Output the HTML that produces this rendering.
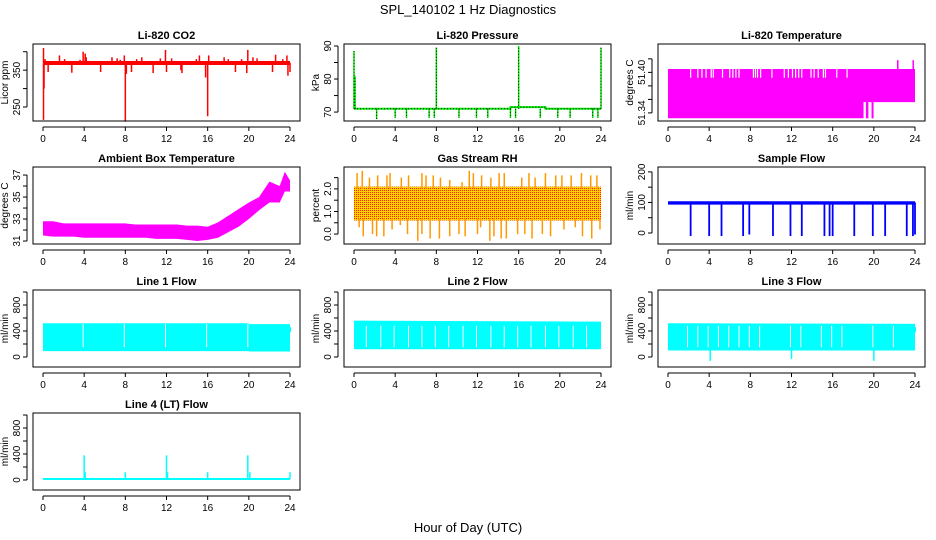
<!DOCTYPE html>
<html><head><meta charset="utf-8">
<style>
html,body{margin:0;padding:0;background:#fff;}
svg{display:block;font-family:"Liberation Sans",sans-serif;}
</style></head>
<body>
<svg id="chart" width="936" height="540" viewBox="0 0 936 540" xmlns="http://www.w3.org/2000/svg">
<defs>
<pattern id="rhp" width="2" height="2" patternUnits="userSpaceOnUse">
<rect width="2" height="2" fill="#ffd000"/><rect x="0" y="0" width="1" height="1" fill="#ff2000"/>
</pattern>
</defs>
<text x="468" y="14" text-anchor="middle" font-size="13">SPL_140102  1 Hz Diagnostics</text>
<text x="468" y="532" text-anchor="middle" font-size="13">Hour of Day (UTC)</text>
</svg>
<script>
// ---- x axis ----
const hourTicks = [0,4,8,12,16,20,24];
// ---- CO2 ----
const co2BandLow = 364, co2BandHigh = 375;
const co2SpikeHours = [0.05,0.1,0.05,0.2,0.5,1.6,2.1,2.8,3.6,3.9,4.1,4.2,5.6,6.7,7.2,7.5,7.9,8.0,8.1,8.6,9.1,9.6,10.7,11.4,11.9,12.0,12.5,13.4,13.5,14.9,15.2,15.8,16.0,16.1,17.6,18.0,18.7,19.3,19.8,19.9,20.4,20.8,22.3,22.6,23.3,23.7,23.8,24.0];
const co2SpikeVals = [215,300,410,380,345,390,380,343,378,400,395,385,345,385,382,378,390,210,340,345,380,385,342,382,405,345,382,350,342,380,390,330,225,390,385,380,345,380,342,405,385,382,345,392,380,390,335,345];
// ---- Pressure ----
const presBaseHours = [0,15.2,15.2,18.6,18.6,24];
const presBaseVals = [71,71,71.5,71.5,71,71];
const presUpHours = [0.0,0.1,8.0,16.0,24.0];
const presUpVals = [88.5,81,89.5,90,89.5];
const presDownHours = [2.2,4.0,5.1,7.3,7.8,10.2,11.9,13.0,15.2,15.7,18.1,19.8,21.0,23.2,23.7];
const presDownVals = [67.9,68.2,68.2,68.2,68.2,68.2,68.2,68.2,68.2,68.2,68.2,68.2,68.2,68.2,68.2];
// ---- Li-820 temperature ----
const tempBandHours = [0,19,19,24];
const tempBandLow = [51.332,51.332,51.356,51.356];
const tempBandHigh = [51.405,51.405,51.405,51.405];
const tempGapHours = [2.2,2.9,3.3,3.7,4.2,4.4,5.3,6.0,6.3,6.6,6.9,8.3,8.5,8.7,9.0,10.1,11.3,11.7,12.1,12.4,12.7,13.0,13.9,14.2,14.6,15.1,15.3,16.4,17.4];
const tempLowBarHours = [19.3,19.4,19.85,19.9];
const tempSpikeHours = [22.3,22.35,23.8,23.85];
const tempSpikeVals = [51.418,51.418,51.418,51.418];
// ---- Ambient box temperature ----
const ambHours = [0,1,2,3,4,5,6,7,8,9,10,11,12,13,14,15,16,17,18,19,20,21,22,23,23.5,24];
const ambLow = [31.5,31.4,31.4,31.4,31.3,31.3,31.3,31.3,31.3,31.3,31.3,31.2,31.2,31.2,31.1,31.0,31.1,31.3,31.8,32.3,33.0,33.8,34.5,34.5,35.5,35.5];
const ambHigh = [32.8,32.8,32.6,32.6,32.6,32.6,32.6,32.6,32.6,32.5,32.5,32.5,32.5,32.5,32.4,32.4,32.3,32.7,33.3,33.9,34.5,35.0,36.4,36.0,37.3,36.5];
// ---- Gas stream RH ----
const rhBandLow = 0.6, rhBandHigh = 2.1;
const rhUpHours = [0.3,0.8,1.5,2.3,3.2,3.5,4.6,5.3,6.6,7.0,7.7,8.4,9.3,10.5,11.2,11.6,12.4,13.3,14.1,14.6,16.3,17.0,17.6,18.6,19.6,20.2,21.1,22.1,23.0,23.6];
const rhUpVals = [2.7,2.8,2.5,2.6,2.6,2.7,2.5,2.6,2.7,2.6,2.6,2.5,2.4,2.3,2.8,2.7,2.6,2.5,2.7,2.7,2.5,2.7,2.5,2.7,2.6,2.6,2.6,2.7,2.6,2.6];
const rhDownHours = [0.5,0.9,1.8,2.2,2.9,3.7,4.5,5.2,6.2,6.6,7.4,8.3,9.3,10.2,10.8,12.0,12.3,13.2,13.6,14.3,14.8,15.9,16.6,17.3,18.3,19.1,20.4,21.5,22.2,23.1,23.9];
const rhDownVals = [0.3,-0.1,0.0,-0.1,-0.1,0.2,0.4,0.0,-0.3,0.0,-0.2,-0.2,-0.1,0.0,-0.1,0.0,0.3,-0.3,-0.1,-0.2,-0.2,0.0,0.0,-0.2,0.0,-0.1,0.2,0.3,-0.1,-0.2,0.2];
// ---- Sample flow ----
const sfBandLow = 93, sfBandHigh = 104;
const sfDipHours = [2.2,4.0,5.2,7.3,7.9,10.2,11.9,13.0,15.2,15.7,16.0,18.1,19.9,21.1,23.2,23.8,24.0];
const sfDipVals = [-10,-10,-10,-10,-5,-10,-10,-10,-10,-10,-10,-10,-10,-10,-10,-10,-5];
// ---- Line flows ----
const l1BandHours = [0,20,20,24];
const l1Low = [90,90,85,85];
const l1High = [520,520,505,505];
const l1GapHours = [3.9,7.9,11.9,15.9,19.9];
const l2BandHours = [0,24];
const l2Low = [120,120];
const l2High = [560,545];
const l2GapHours = [1.2,2.6,3.9,5.3,6.6,7.9,9.2,10.6,11.9,13.3,14.6,15.9,17.2,18.6,19.9,21.3,22.6];
const l3BandHours = [0,24];
const l3Low = [100,100];
const l3High = [520,510];
const l3GapHours = [1.9,2.9,3.9,4.9,5.9,6.9,7.9,8.9,11.9,12.9,14.9,15.9,16.9,19.9,21.9];
const l3DipHours = [4.1,12.0,20.0];
const l3DipVals = [-60,-30,-60];
// ---- Line 4 ----
const l4BaseLow = 0, l4BaseHigh = 30;
const l4SpikeHours = [4.0,4.1,8.0,12.0,12.1,16.0,19.9,20.1,24.0];
const l4SpikeVals = [380,120,120,380,120,120,380,120,120];

const NS = "http://www.w3.org/2000/svg";
const svg = document.getElementById('chart');
const colLeft = [33,344,658], rowTop = [44,167,290,413], boxW = 267, boxH = 77;

function mk(tag, attrs, parent){
  const e = document.createElementNS(NS, tag);
  for (const k in attrs) e.setAttribute(k, attrs[k]);
  (parent||svg).appendChild(e);
  return e;
}

function panel(name, col, row, title, ylab, ymin, ymax, ticks, labels){
  const L = colLeft[col], T = rowTop[row];
  const g = mk('g', {});
  
  
  const xs = h => L + 10 + h/24*(boxW-20);
  const ys = v => T + boxH - (v-ymin)/(ymax-ymin)*boxH;
  const data = mk('g', {}, g);
  
  
  const t = mk('text', {x: L+boxW/2, y: T-5, 'text-anchor':'middle', 'font-size':'11', 'font-weight':'bold'}, g);
  t.textContent = title;
  
  
  const box = mk('rect', {x:L, y:T, width:boxW, height:boxH, fill:'none', stroke:'#000', 'stroke-width':1}, g);
  
  
  const xa = mk('g', {}, g);
  
  
  mk('line', {x1:xs(0), x2:xs(24), y1:T+boxH+6, y2:T+boxH+6, stroke:'#000'}, xa);
  hourTicks.forEach(h => {
    mk('line', {x1:xs(h), x2:xs(h), y1:T+boxH+6, y2:T+boxH+10, stroke:'#000'}, xa);
    const tx = mk('text', {x:xs(h), y:T+boxH+21, 'text-anchor':'middle', 'font-size':'10'}, xa);
    tx.textContent = h;
  });
  const ya = mk('g', {}, g);
  
  
  mk('line', {x1:L-6, x2:L-6, y1:ys(ticks[0]), y2:ys(ticks[ticks.length-1]), stroke:'#000'}, ya);
  ticks.forEach(v => mk('line', {x1:L-10, x2:L-6, y1:ys(v), y2:ys(v), stroke:'#000'}, ya));
  labels.forEach(v => {
    const tx = mk('text', {x:0, y:0, 'text-anchor':'middle', 'font-size':'10',
      transform:`translate(${L-13},${ys(v[0])}) rotate(-90)`}, ya);
    tx.textContent = v[1];
  });
  const yl = mk('text', {x:0, y:0, 'text-anchor':'middle', 'font-size':'10',
    transform:`translate(${L-25},${T+boxH/2}) rotate(-90)`}, g);
  yl.textContent = ylab;
  
  
  return {xs, ys, g:data};
}
function vline(p, h, v1, v2, color, w, extra){
  const a = {x1:p.xs(h), x2:p.xs(h), y1:p.ys(v1), y2:p.ys(v2), stroke:color, 'stroke-width':w||1};
  if (extra) Object.assign(a, extra);
  return mk('line', a, p.g);
}
function band(p, hours, lo, hi, fill){
  const pts = hours.map((h,i)=>p.xs(h)+','+p.ys(hi[i]));
  for (let i=hours.length-1;i>=0;i--) pts.push(p.xs(hours[i])+','+p.ys(lo[i]));
  return mk('polygon', {points:pts.join(' '), fill:fill}, p.g);
}

// 1 CO2
let p = panel('co2', 0, 0, 'Li-820 CO2', 'Licor ppm', 212, 421, [250,300,350,400], [[250,'250'],[350,'350']]);
band(p, [0,24], [co2BandLow,co2BandLow], [co2BandHigh,co2BandHigh], '#ff0000');
co2SpikeHours.forEach((h,i)=>vline(p, h, 370, co2SpikeVals[i], '#ff0000', 1.5));

// 2 Pressure
p = panel('pressure', 1, 0, 'Li-820 Pressure', 'kPa', 67.3, 90.6, [70,75,80,85,90], [[70,'70'],[80,'80'],[90,'90']]);
mk('polyline', {points:presBaseHours.map((h,i)=>p.xs(h)+','+p.ys(presBaseVals[i])).join(' '), fill:'none', stroke:'#00ee00', 'stroke-width':2}, p.g);
mk('polyline', {points:presBaseHours.map((h,i)=>p.xs(h)+','+p.ys(presBaseVals[i])).join(' '), fill:'none', stroke:'#000', 'stroke-width':1, 'stroke-dasharray':'1,2'}, p.g);
presUpHours.forEach((h,i)=>{vline(p,h,71,presUpVals[i],'#00ee00',1.5); vline(p,h,71,presUpVals[i],'#000',1,{'stroke-dasharray':'1,2'});});
presDownHours.forEach((h,i)=>{vline(p,h,71,presDownVals[i],'#00ee00',1.5); vline(p,h,71,presDownVals[i],'#000',1,{'stroke-dasharray':'1,2'});});

// 3 Li temp
p = panel('li820-temperature', 2, 0, 'Li-820 Temperature', 'degrees C', 51.328, 51.442, [51.34,51.36,51.38,51.40,51.42], [[51.34,'51.34'],[51.40,'51.40']]);
band(p, tempBandHours, tempBandLow, tempBandHigh, '#ff00ff');
tempGapHours.forEach(h=>vline(p, h, 51.405, 51.392, '#fff', 1.2));
tempLowBarHours.forEach(h=>vline(p, h, 51.356, 51.332, '#ff00ff', 1.5));
tempSpikeHours.forEach((h,i)=>vline(p, h, 51.40, tempSpikeVals[i], '#ff00ff', 1));

// 4 Ambient
p = panel('ambient-temperature', 0, 1, 'Ambient Box Temperature', 'degrees C', 30.73, 37.73, [31,32,33,34,35,36,37], [[31,'31'],[33,'33'],[35,'35'],[37,'37']]);
band(p, ambHours, ambLow, ambHigh, '#ff00ff');

// 5 RH
p = panel('gas-stream-rh', 1, 1, 'Gas Stream RH', 'percent', -0.44, 2.97, [0,0.5,1,1.5,2,2.5], [[0,'0.0'],[1,'1.0'],[2,'2.0']]);
band(p, [0,24], [rhBandLow,rhBandLow], [rhBandHigh,rhBandHigh], 'url(#rhp)');
rhUpHours.forEach((h,i)=>vline(p, h, 2.0, rhUpVals[i], '#ff9900', 1.5));
rhDownHours.forEach((h,i)=>vline(p, h, 0.7, rhDownVals[i], '#ff9900', 1.5));

// 6 Sample flow
p = panel('sample-flow', 2, 1, 'Sample Flow', 'ml/min', -36, 216, [0,50,100,150,200], [[0,'0'],[100,'100'],[200,'200']]);
band(p, [0,24], [sfBandLow,sfBandLow], [sfBandHigh,sfBandHigh], '#0000ff');
sfDipHours.forEach((h,i)=>vline(p, h, 100, sfDipVals[i], '#0000ff', 1.8));

// 7-9 Line flows
const flowTicks = [0,200,400,600,800,1000], flowLabels = [[0,'0'],[400,'400'],[800,'800']];
p = panel('line1-flow', 0, 2, 'Line 1 Flow', 'ml/min', -154, 1031, flowTicks, flowLabels);
band(p, l1BandHours, l1Low, l1High, '#00ffff');
l1GapHours.forEach(h=>vline(p, h, 150, 510, '#fff', 1));
vline(p, 24, 380, 460, '#00ffff', 2);
p = panel('line2-flow', 1, 2, 'Line 2 Flow', 'ml/min', -154, 1031, flowTicks, flowLabels);
band(p, l2BandHours, l2Low, l2High, '#00ffff');
l2GapHours.forEach(h=>vline(p, h, 150, 480, '#fff', 1));
p = panel('line3-flow', 2, 2, 'Line 3 Flow', 'ml/min', -154, 1031, flowTicks, flowLabels);
band(p, l3BandHours, l3Low, l3High, '#00ffff');
l3GapHours.forEach(h=>vline(p, h, 150, 480, '#fff', 1));
l3DipHours.forEach((h,i)=>vline(p, h, 100, l3DipVals[i], '#00ffff', 1.5));
vline(p, 24, 380, 460, '#00ffff', 2);

// 10 Line 4
p = panel('line4-flow', 0, 3, 'Line 4 (LT) Flow', 'ml/min', -154, 1031, flowTicks, flowLabels);
band(p, [0,24], [l4BaseLow,l4BaseLow], [l4BaseHigh,l4BaseHigh], '#00ffff');
l4SpikeHours.forEach((h,i)=>vline(p, h, 15, l4SpikeVals[i], '#00ffff', 1.5));
</script>
</body></html>
